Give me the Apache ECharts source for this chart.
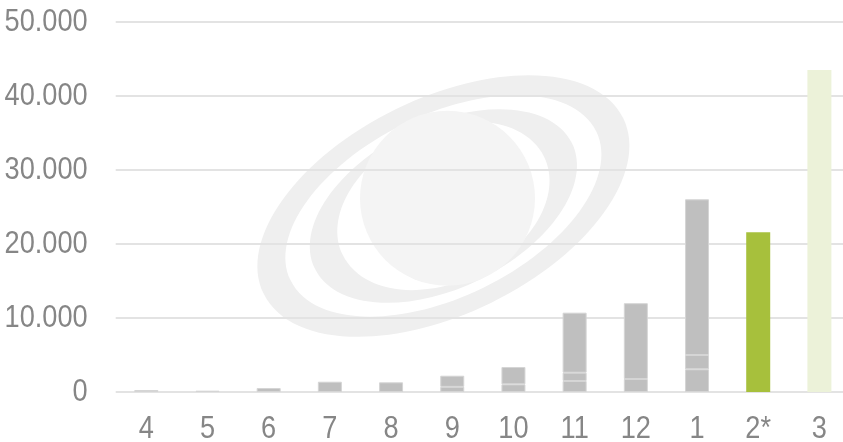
<!DOCTYPE html>
<html>
<head>
<meta charset="utf-8">
<script src="https://cdn.jsdelivr.net/npm/echarts@6/dist/echarts.min.js"></script>
<style>
  html, body { margin: 0; padding: 0; background: #ffffff; }
  #chart { width: 843px; height: 442px; }
</style>
</head>
<body>
<div id="chart"></div>
<script>
// Month labels (April through March, 2* = provisional)
const months = ['4', '5', '6', '7', '8', '9', '10', '11', '12', '1', '2*', '3'];

// Grey stacked segments for the completed months
const baseSegment   = [270, 180, 540, 1390, 1310, 700, 1040, 1490, 1760, 3070, null, null];
const middleSegment = [null, null, null, null, null, null, null, 1120, null, 1930, null, null];
const topSegment    = [null, null, null, null, null, 1500, 2340, 8110, 10240, 21040, null, null];

// Provisional month and projection
const provisional = [null, null, null, null, null, null, null, null, null, null, 21600, null];
const projection  = [null, null, null, null, null, null, null, null, null, null, null, 43500];

// Value axis ticks
const yMin = 0, yMax = 50000, yStep = 10000;

const textColor = '#868686';
const fontFamily = '"Liberation Sans", Arial, sans-serif';
const labelCondense = 0.85; // horizontal squeeze for a narrow-face look

function thousands(v) {
  return String(v).replace(/\B(?=(\d{3})+(?!\d))/g, '.');
}

const greySeg = {
  type: 'bar',
  stack: 'total',
  barWidth: 24,
  itemStyle: { color: '#bfbfbf', borderColor: '#d5d5d5', borderWidth: 1 },
  emphasis: { disabled: true }
};

const chart = echarts.init(document.getElementById('chart'), null, { renderer: 'canvas' });

// Faint ringed-planet emblem behind the plot
const cx = 443.5, cy = 206, tilt = 26 * Math.PI / 180;
const ringGrey = '#efefef', discGrey = '#f4f4f4';
function ring(rx, ry, fill, z) {
  return { type: 'ellipse', z: z, x: cx, y: cy, rotation: tilt, silent: true,
           shape: { cx: 0, cy: 0, rx: rx, ry: ry }, style: { fill: fill } };
}

chart.setOption({
  animation: false,
  backgroundColor: '#ffffff',
  grid: { left: 115.7, right: -7, top: 22, bottom: 50, containLabel: false, outerBoundsMode: 'none' },
  graphic: [
    ring(200, 108, ringGrey, -20),
    ring(170, 91, '#ffffff', -19),
    ring(143, 82, ringGrey, -18),
    ring(112, 76, '#ffffff', -17),
    { type: 'circle', z: -16, x: 447.5, y: 198.3, silent: true,
      shape: { cx: 0, cy: 0, r: 87.5 }, style: { fill: discGrey } }
  ],
  xAxis: {
    type: 'category',
    data: months,
    axisLine: { show: false },
    axisTick: { show: false },
    axisLabel: { color: textColor, fontFamily: fontFamily, fontSize: 32, margin: 21 },
    splitLine: { show: false }
  },
  yAxis: {
    type: 'value',
    min: yMin,
    max: yMax,
    interval: yStep,
    axisLine: { show: false },
    axisTick: { show: false },
    axisLabel: { color: textColor, fontFamily: fontFamily, fontSize: 32, margin: 28, formatter: thousands },
    splitLine: { lineStyle: { color: '#e3e3e3', width: 2 } }
  },
  series: [
    Object.assign({}, greySeg, { name: 'base', data: baseSegment }),
    Object.assign({}, greySeg, { name: 'middle', data: middleSegment }),
    Object.assign({}, greySeg, { name: 'top', data: topSegment }),
    { type: 'bar', stack: 'total', name: 'provisional', barWidth: 25, data: provisional,
      itemStyle: { color: '#a7c03c' }, emphasis: { disabled: true } },
    { type: 'bar', stack: 'total', name: 'projection', barWidth: 25, data: projection,
      itemStyle: { color: '#ecf2d9' }, emphasis: { disabled: true } }
  ]
});

// Squeeze the axis label texts horizontally around their anchor points
(function condenseLabels() {
  const zr = chart.getZr();
  const visit = function (el) {
    if (el.type === 'text' && el.style && el.style.text != null) {
      el.scaleX = labelCondense;
      el.markRedraw();
    }
  };
  zr.storage.getRoots().forEach(function (root) {
    visit(root);
    if (root.traverse) root.traverse(visit);
  });
  zr.refresh();
})();
</script>
</body>
</html>
